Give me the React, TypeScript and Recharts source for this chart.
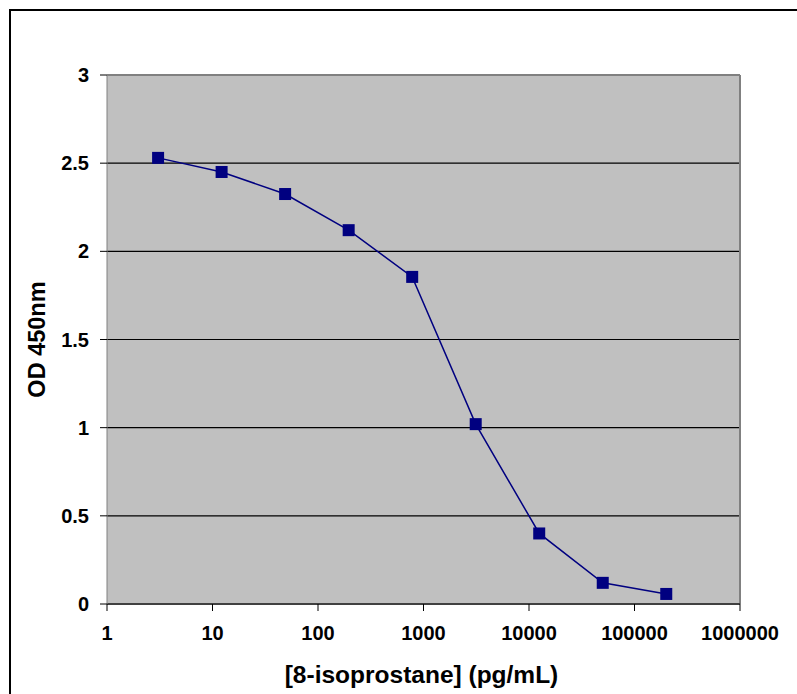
import React from 'react';
import {
  LineChart,
  Line,
  XAxis,
  YAxis,
  CartesianGrid,
  ReferenceLine,
} from 'recharts';

const concentrations = [3.05, 12.2, 48.8, 195.3, 781.3, 3125, 12500, 50000, 200000];
const odValues = [2.53, 2.45, 2.325, 2.12, 1.855, 1.02, 0.4, 0.12, 0.057];
const xTicks = [1, 10, 100, 1000, 10000, 100000, 1000000];
const yTicks = [0, 0.5, 1, 1.5, 2, 2.5, 3];
const xTitle = '[8-isoprostane] (pg/mL)';
const yTitle = 'OD 450nm';

const data = concentrations.map((c, i) => ({ x: c, y: odValues[i] }));

const FONT = '"Liberation Sans", Arial, sans-serif';
const NAVY = '#000080';

const SquareDot = (props: any) => {
  const { cx, cy, index } = props;
  if (cx == null || cy == null) return null;
  return <rect key={`d-${index}`} x={cx - 6} y={cy - 6} width={12} height={12} fill={NAVY} />;
};

export default function App() {
  const tickStyle = { fontFamily: FONT, fontSize: 20, fontWeight: 700, fill: '#000' };
  return (
    <div style={{ position: 'absolute', left: 0, top: 0, width: 797, height: 694, overflow: 'hidden', background: '#fff' }}>
      <div
        style={{
          position: 'absolute',
          left: 9,
          top: 9,
          width: 790,
          height: 720,
          border: '2px solid #000',
          boxSizing: 'border-box',
        }}
      />
      <div style={{ position: 'absolute', left: 0, top: 0 }}>
        <LineChart
          width={797}
          height={694}
          data={data}
          margin={{ top: 75, right: 57, left: 17, bottom: 50 }}
        >
          <CartesianGrid vertical={false} stroke="#000" strokeWidth={1.2} fill="#C0C0C0" fillOpacity={1} />
          <ReferenceLine y={3} stroke="#808080" strokeWidth={2} />
          <ReferenceLine x={1000000} stroke="#808080" strokeWidth={2} />
          <XAxis
            dataKey="x"
            type="number"
            scale="log"
            domain={[1, 1000000]}
            ticks={xTicks}
            allowDataOverflow
            interval={0}
            height={40}
            tickSize={7}
            tickMargin={15}
            tick={tickStyle}
            tickLine={{ stroke: '#000' }}
            axisLine={{ stroke: '#404040', strokeWidth: 2 }}
            tickFormatter={(v: number) => String(v)}
            label={{
              value: xTitle,
              position: 'bottom',
              offset: 22,
              dx: -2,
              style: { fontFamily: FONT, fontSize: 24.5, fontWeight: 700, fill: '#000' },
            }}
          />
          <YAxis
            dataKey="y"
            type="number"
            domain={[0, 3]}
            ticks={yTicks}
            interval={0}
            width={90}
            tickSize={7}
            tickMargin={11}
            tick={tickStyle}
            tickLine={{ stroke: '#000' }}
            axisLine={{ stroke: '#808080', strokeWidth: 1 }}
            label={{
              value: yTitle,
              angle: -90,
              position: 'insideLeft',
              offset: 20,
              style: { textAnchor: 'middle', fontFamily: FONT, fontSize: 23.5, fontWeight: 700, fill: '#000' },
            }}
          />
          <Line
            type="linear"
            dataKey="y"
            stroke={NAVY}
            strokeWidth={1.5}
            dot={SquareDot}
            activeDot={false}
            isAnimationActive={false}
          />
        </LineChart>
      </div>
    </div>
  );
}
